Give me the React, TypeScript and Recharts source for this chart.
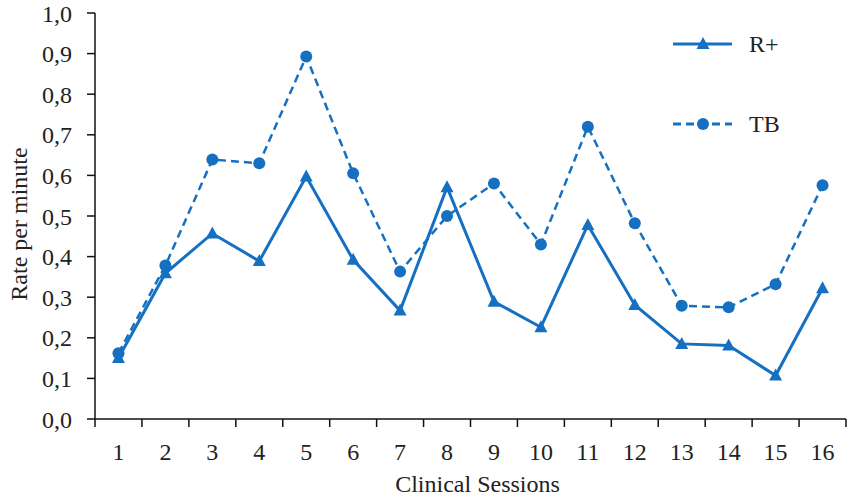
import React from 'react';
import { LineChart, Line, XAxis, YAxis, Legend } from 'recharts';

const sessions = [1, 2, 3, 4, 5, 6, 7, 8, 9, 10, 11, 12, 13, 14, 15, 16];
const rPlus = [0.150, 0.359, 0.457, 0.389, 0.597, 0.392, 0.267, 0.571, 0.289, 0.226, 0.478, 0.281, 0.185, 0.181, 0.107, 0.322];
const tb = [0.162, 0.378, 0.639, 0.630, 0.893, 0.605, 0.363, 0.500, 0.580, 0.430, 0.720, 0.482, 0.279, 0.275, 0.332, 0.576];
const yTicks = [0, 0.1, 0.2, 0.3, 0.4, 0.5, 0.6, 0.7, 0.8, 0.9, 1.0];

const BLUE = '#1570c1';
const FONT = 'Liberation Serif, serif';
const textStyle = { fontFamily: FONT, fontSize: 24, fill: '#222' };

const data = sessions.map((s, i) => ({ session: s, rPlus: rPlus[i], tb: tb[i] }));

// tick marks sit on the category boundaries, labels in the middle
const boundaries = [...sessions.map((s) => s - 0.5), sessions[sessions.length - 1] + 0.5];
const xTicks = [...boundaries, ...sessions].sort((a, b) => a - b);

const Triangle = ({ cx, cy }: any) => {
  if (cx == null || cy == null) return null;
  return <polygon points={`${cx},${cy - 7} ${cx - 6.5},${cy + 5} ${cx + 6.5},${cy + 5}`} fill={BLUE} />;
};

const Circle = ({ cx, cy }: any) => {
  if (cx == null || cy == null) return null;
  return <circle cx={cx} cy={cy} r={6} fill={BLUE} />;
};

const XTick = ({ x, y, payload }: any) => {
  const v = payload.value;
  if (Number.isInteger(v)) {
    return (
      <text x={x} y={y + 33} textAnchor="middle" style={textStyle}>
        {v}
      </text>
    );
  }
  return <line x1={x} x2={x} y1={y - 8} y2={y} stroke="#111" strokeWidth={1.5} />;
};

const series = [
  { key: 'rPlus', name: 'R+', dash: undefined as string | undefined, marker: 'triangle' },
  { key: 'tb', name: 'TB', dash: '8 5', marker: 'circle' },
];

const LegendBox = () => (
  <svg width={170} height={110}>
    {series.map((s, i) => {
      const cy = 15 + i * 80;
      return (
        <g key={s.key}>
          <line x1={8} x2={67} y1={cy} y2={cy} stroke={BLUE} strokeWidth={3} strokeDasharray={s.dash} />
          {s.marker === 'triangle' ? <Triangle cx={38} cy={cy} /> : <Circle cx={38} cy={cy} />}
          <text x={84} y={cy + 8} style={textStyle}>
            {s.name}
          </text>
        </g>
      );
    })}
  </svg>
);

export default function App() {
  return (
    <div style={{ position: 'absolute', left: 0, top: 0, background: '#fff', fontFamily: FONT }}>
      <LineChart width={851} height={498} data={data} margin={{ top: 13, right: 5, bottom: 19, left: 0 }}>
        <XAxis
          dataKey="session"
          type="number"
          domain={[0.5, 16.5]}
          ticks={xTicks}
          interval={0}
          height={60}
          tickSize={8}
          tickMargin={0}
          tickLine={false}
          tick={<XTick />}
          axisLine={{ stroke: '#111', strokeWidth: 1.5 }}
          label={{
            content: ({ viewBox }: any) => (
              <text x={viewBox.x + viewBox.width / 2 + 7} y={492} textAnchor="middle" style={textStyle}>
                Clinical Sessions
              </text>
            ),
          }}
        />
        <YAxis
          domain={[0, 1]}
          ticks={yTicks}
          interval={0}
          width={95}
          tickSize={8}
          tickMargin={15}
          tickFormatter={(v: number) => v.toFixed(1).replace('.', ',')}
          tick={{ style: textStyle, fontSize: 24, fill: '#222' }}
          tickLine={{ stroke: '#111', strokeWidth: 1.5 }}
          axisLine={{ stroke: '#111', strokeWidth: 1.5 }}
          label={{
            content: ({ viewBox }: any) => {
              const cy = viewBox.y + viewBox.height / 2 + 8;
              return (
                <text
                  x={19}
                  y={cy}
                  transform={`rotate(-90 19 ${cy})`}
                  textAnchor="middle"
                  dominantBaseline="central"
                  style={textStyle}
                >
                  Rate per minute
                </text>
              );
            },
          }}
        />
        <Legend
          layout="vertical"
          align="center"
          verticalAlign="middle"
          wrapperStyle={{ top: 29, left: 665, width: 170 }}
          content={() => <LegendBox />}
        />
        <Line
          dataKey="tb"
          name="TB"
          stroke={BLUE}
          strokeWidth={2.5}
          strokeDasharray="8 5"
          dot={(p: any) => <Circle key={`tb-${p.index}`} {...p} />}
          activeDot={false}
          isAnimationActive={false}
        />
        <Line
          dataKey="rPlus"
          name="R+"
          stroke={BLUE}
          strokeWidth={3}
          dot={(p: any) => <Triangle key={`r-${p.index}`} {...p} />}
          activeDot={false}
          isAnimationActive={false}
        />
      </LineChart>
    </div>
  );
}
